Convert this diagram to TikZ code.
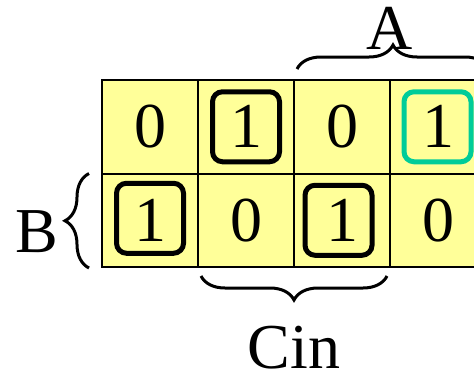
\documentclass[tikz,border=0pt]{standalone}
\usepackage{fontspec}
\setmainfont{Liberation Serif}
\usetikzlibrary{decorations.pathreplacing}
\definecolor{kmapfill}{RGB}{255,255,153}
\definecolor{kmapgreen}{RGB}{0,204,153}
\tikzset{
    bigtext/.style={font=\fontsize{32}{38}\selectfont},
    cell/.style={bigtext, draw, line width=1pt, fill=kmapfill, inner sep=0pt,
        minimum width=48pt, minimum height=46.75pt},
    group/.style={draw, line width=2.5pt, rounded corners=5pt, inner sep=0pt,
        minimum width=33.5pt, minimum height=35pt},
    greengroup/.style={group, draw=kmapgreen},
    curly/.style={decorate, line width=1.5pt, decoration={brace, amplitude=12pt}},
}

\begin{document}
\begin{tikzpicture}[x=0.5pt, y=-0.5pt]
    \clip (0,0) rectangle (474,375);
    % the two rows of the map
    \foreach \v [count=\i] in {0,1,0,1} \node[cell] (a\i) at (54+96*\i,126.75) {\v};
    \foreach \v [count=\i] in {1,0,1,0} \node[cell] (b\i) at (54+96*\i,220.25) {\v};
    % groups of ones
    \node[group] (g1) at (a2) {};
    \node[group] (g2) at ([yshift=1pt]b1) {};
    \node[group] (g3) at ([xshift=-1.75pt]b3) {};
    \node[greengroup] (g4) at ([xshift=-0.25pt]a4) {};
    % variables
    \draw[curly] ([xshift=2pt,yshift=5pt]a3.north west) -- ([xshift=1pt,yshift=5pt]a4.north east);
    \node[bigtext] (A) at (390,28.5) {A};
    \draw[curly] ([xshift=-6pt]b1.south west) -- ([xshift=-6pt,yshift=-0.5pt]b1.north west);
    \node[bigtext] (B) at (36.5,231.5) {B};
    \draw[curly] ([xshift=-1pt,yshift=-4pt]b4.south west) -- ([xshift=2pt,yshift=-4pt]b2.south west);
    \node[bigtext] (Cin) at (294,347.5) {Cin};
\end{tikzpicture}
\end{document}
